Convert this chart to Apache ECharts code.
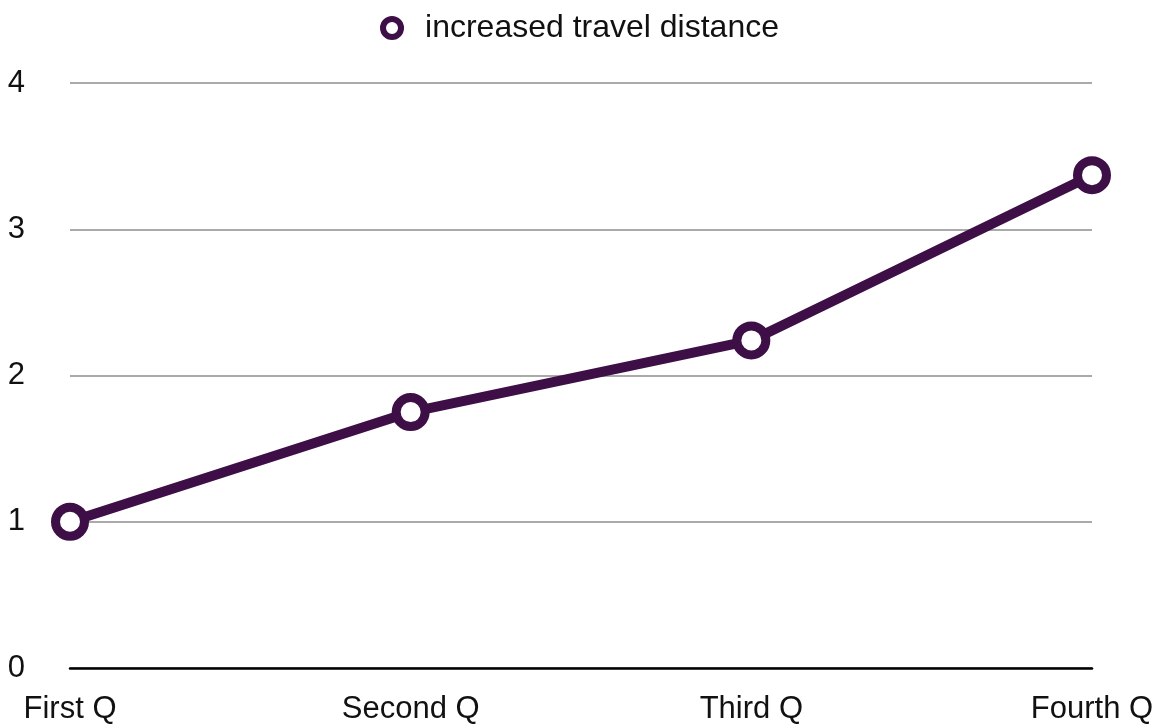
<!DOCTYPE html>
<html><head><meta charset="utf-8">
<script src="https://cdn.jsdelivr.net/npm/echarts@6/dist/echarts.min.js"></script>
<style>html,body{margin:0;padding:0;background:#fff}#c{width:1159px;height:725px}</style>
</head><body><div id="c"></div>
<script>
const categories = ['First Q', 'Second Q', 'Third Q', 'Fourth Q'];
const seriesName = 'increased travel distance';
const values = [1, 1.75, 2.24, 3.37];
const yTicks = { min: 0, max: 4, interval: 1 };
const color = '#3e0e47';
const font = '"Liberation Sans", Arial, Helvetica, sans-serif';

const chart = echarts.init(document.getElementById('c'));
chart.setOption({
  animation: false,
  backgroundColor: '#fff',
  textStyle: { fontFamily: font },
  legend: {
    top: 7, left: 'center',
    itemWidth: 18, itemHeight: 18, itemGap: 24,
    textStyle: { fontSize: 32, color: '#111', fontFamily: font, padding: [0, 0, 0, 19] },
    data: [{ name: seriesName, icon: 'circle', itemStyle: { color: '#fff', borderColor: color, borderWidth: 6 } }]
  },
  grid: { left: 70, right: 67, top: 83, bottom: 53, containLabel: false },
  xAxis: {
    type: 'category', data: categories, boundaryGap: false,
    axisLine: { lineStyle: { color: '#000', width: 2.5 } },
    axisTick: { show: false },
    axisLabel: { fontSize: 31, color: '#111', margin: 26, fontFamily: font },
    splitLine: { show: false }
  },
  yAxis: {
    type: 'value', min: yTicks.min, max: yTicks.max, interval: yTicks.interval,
    axisLine: { show: false }, axisTick: { show: false },
    axisLabel: { fontSize: 31, color: '#111', margin: 45, fontFamily: font },
    splitLine: { lineStyle: { color: '#aaaaaa', width: 2 } }
  },
  series: [{
    name: seriesName, type: 'line', data: values,
    symbol: 'circle', symbolSize: 29,
    color: color,
    lineStyle: { color: color, width: 10 },
    itemStyle: { color: '#fff', borderColor: color, borderWidth: 9 }
  }]
});
</script></body></html>
